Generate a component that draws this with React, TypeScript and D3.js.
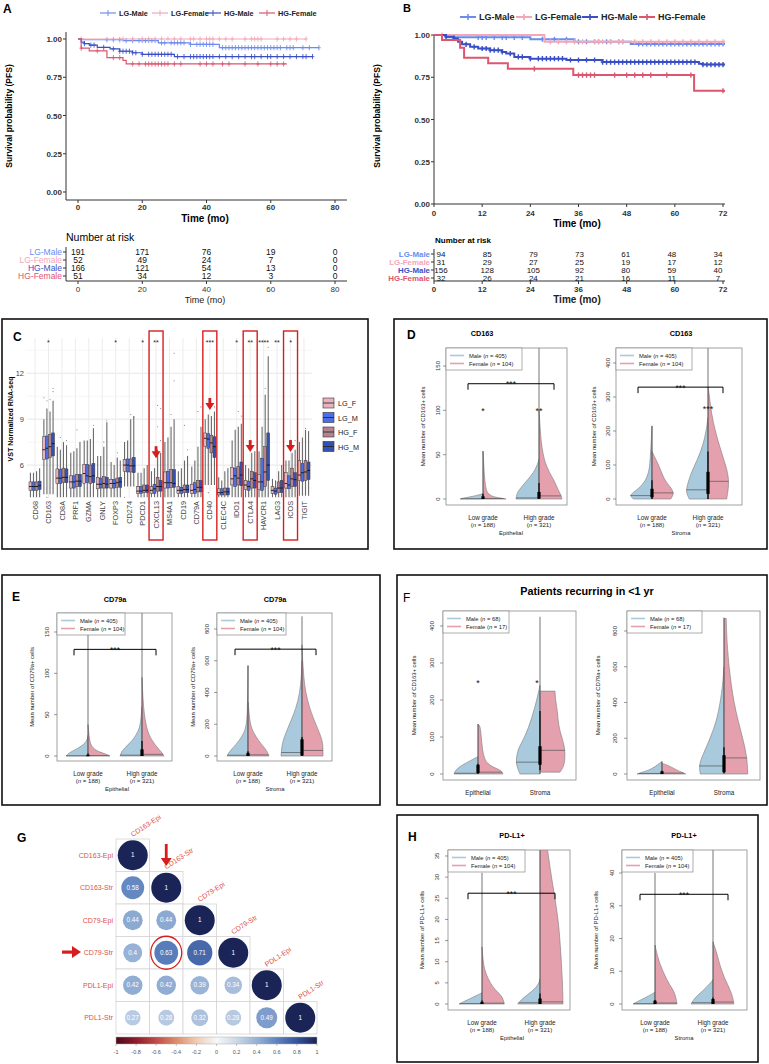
import React from 'react';
import * as d3 from 'd3';

const FONT = "'Liberation Sans', Arial, Helvetica, sans-serif";
type Pt = [number, number];

/* ================= Panels A & B : Kaplan–Meier ================= */
const kmNames = ['LG-Male', 'LG-Female', 'HG-Male', 'HG-Female'];
const kmColors = ['#6a8cf0', '#f2a8b6', '#3a4fc4', '#dc5670'];

const kmA_LGMale: Pt[] = [[0, 1], [1.5, 0.995], [14, 0.99], [25, 0.975], [35, 0.965], [44, 0.943], [75, 0.943]];
const kmA_LGFemale: Pt[] = [[0, 1], [71, 1]];
const kmA_HGMale: Pt[] = [[0, 1], [1, 0.98], [2, 0.97], [3.5, 0.96], [6, 0.945], [10, 0.935], [13, 0.92], [17, 0.91], [20, 0.9], [30, 0.885], [73, 0.885]];
const kmA_HGFemale: Pt[] = [[0, 1], [1, 0.94], [3.5, 0.923], [9, 0.878], [14, 0.86], [15, 0.837], [65, 0.837]];

const censA_LGMale = [9, 11, 13, 15, 17, 19, 20, 21, 22, 23, 24, 26, 27, 29, 30, 31, 32, 33, 35, 37, 38, 39, 40, 41, 42, 45, 46, 47, 48, 49, 50, 51, 52, 53, 54, 55, 56, 57, 58, 59, 60, 61, 62, 63, 65, 66, 67, 70, 72, 75];
const censA_LGFemale = [1, 14, 17, 20, 22, 24, 26, 28, 30, 32, 35, 36, 38, 40, 41, 42, 44, 46, 48, 52, 54, 55, 56, 57, 62, 64, 66, 68, 71];
const censA_HGMale = [2, 4, 5, 8, 11, 13, 14, 15, 16, 17, 18, 20, 22, 23, 24, 25, 26, 27, 28, 29, 31, 33, 35, 36, 37, 38, 39, 40, 41, 42, 44, 46, 48, 50, 52, 54, 55, 57, 59, 60, 62, 64, 66, 68, 70, 71, 73];
const censA_HGFemale = [1, 6, 11, 13, 17, 19, 21, 22, 23, 24, 25, 26, 27, 28, 30, 32, 38, 40, 42, 45, 47, 52, 56, 60, 62, 64];

const riskTimesA = [0, 20, 40, 60, 80];
const riskA = [[191, 171, 76, 19, 0], [52, 49, 24, 7, 0], [166, 121, 54, 13, 0], [51, 34, 12, 3, 0]];

const kmB_LGMale: Pt[] = [[0, 1], [3, 0.986], [24, 0.975], [35, 0.96], [49, 0.947], [72.5, 0.947]];
const kmB_LGFemale: Pt[] = [[0, 1], [27.5, 0.96], [72.5, 0.96]];
const kmB_HGMale: Pt[] = [[0, 1], [3, 0.99], [5, 0.98], [6, 0.96], [7, 0.945], [9, 0.93], [11, 0.92], [14, 0.91], [17, 0.9], [18, 0.89], [20, 0.87], [24, 0.86], [33, 0.852], [42, 0.84], [66, 0.83], [67, 0.825], [72.5, 0.825]];
const kmB_HGFemale: Pt[] = [[0, 1], [2, 0.97], [6.5, 0.925], [7.5, 0.866], [13.5, 0.833], [18.4, 0.8], [34.7, 0.763], [64.8, 0.67], [72.5, 0.67]];

const censB_LGMale = [11, 12, 13, 15, 17, 18, 20, 22, 27, 30, 33, 36, 38, 40, 41, 43, 44, 46, 47, 51, 52, 53, 54, 55, 56, 57, 58, 59, 60, 61, 62, 63, 64, 65, 66, 67, 68, 69, 70, 71, 72];
const censB_LGFemale = [2, 29, 31, 33, 35, 37, 40, 41, 42, 44, 46, 47, 50, 52, 54, 56, 58, 60, 62, 64, 66, 68, 70, 72];
const censB_HGMale = [3, 5, 8, 10, 12, 13, 14, 15, 16, 17, 19, 21, 22, 24, 26, 27, 28, 29, 30, 31, 32, 34, 36, 38, 40, 42, 43, 44, 45, 46, 47, 48, 49, 50, 51, 52, 53, 54, 55, 56, 57, 58, 59, 60, 61, 62, 63, 64, 65, 67, 68, 69, 70, 71, 72];
const censB_HGFemale = [25, 36, 37, 38, 39, 40, 45, 48, 50, 52, 54, 58, 64, 72];

const riskTimesB = [0, 12, 24, 36, 48, 60, 72];
const riskB = [[94, 85, 79, 73, 61, 48, 34], [31, 29, 27, 25, 19, 17, 12], [156, 128, 105, 92, 80, 59, 40], [32, 26, 24, 21, 16, 11, 7]];

const survTicks = [0, 0.25, 0.5, 0.75, 1];

/* ================= Panel C : boxplots ================= */
const genes = ['CD68', 'CD163', 'CD8A', 'PRF1', 'GZMA', 'GNLY', 'FOXP3', 'CD274', 'PDCD1', 'CXCL13', 'MS4A1', 'CD19', 'CD79A', 'CD40', 'CLEC4C', 'IDO1', 'CTLA4', 'HAVCR1', 'LAG3', 'ICOS', 'TIGIT'];
const geneStars = ['', '*', '', '', '', '', '*', '', '*', '**', '', '', '', '***', '', '*', '**', '****', '**', '*', ''];
const highlightGenes = ['CXCL13', 'CD40', 'CTLA4', 'ICOS'];
const arrowTips = [6.45, 9.6, 6.85, 6.85];
const boxGroups = ['LG_F', 'LG_M', 'HG_F', 'HG_M'];
const boxColors = ['#e8b3bc', '#4a6fe6', '#b5838f', '#3452b4'];
const boxYTicks = [6, 9, 12];
const boxMinor = [4.5, 7.5, 10.5, 13.5];

// per group (LG_F, LG_M, HG_F, HG_M), one value per gene
const medians = [
  [4.6, 7.0, 5.15, 4.9, 5.45, 4.75, 4.8, 6.0, 4.3, 4.35, 4.85, 4.35, 4.35, 7.75, 4.2, 5.1, 4.7, 4.9, 4.35, 4.8, 5.35],
  [4.6, 7.1, 5.15, 4.9, 5.3, 4.75, 4.8, 6.0, 4.3, 4.45, 4.85, 4.35, 4.4, 7.7, 4.2, 5.3, 4.6, 4.9, 4.3, 4.7, 5.5],
  [4.6, 7.2, 5.2, 4.95, 5.25, 4.8, 4.85, 5.95, 4.35, 4.6, 4.85, 4.4, 4.55, 7.45, 4.25, 5.15, 5.1, 5.55, 4.5, 5.1, 5.55],
  [4.65, 7.4, 5.2, 4.95, 5.3, 4.75, 4.9, 5.95, 4.35, 4.6, 4.8, 4.4, 4.55, 7.2, 4.25, 5.35, 5.0, 6.0, 4.5, 5.05, 5.65],
];
const q1s = [
  [4.35, 6.35, 4.8, 4.5, 4.8, 4.45, 4.5, 5.6, 4.15, 4.15, 4.5, 4.15, 4.15, 7.2, 4.05, 4.7, 4.4, 4.4, 4.15, 4.5, 5.0],
  [4.35, 6.4, 4.8, 4.5, 4.85, 4.5, 4.5, 5.55, 4.15, 4.15, 4.5, 4.15, 4.15, 7.1, 4.05, 4.6, 4.35, 4.35, 4.1, 4.45, 4.95],
  [4.35, 6.5, 4.85, 4.6, 4.8, 4.5, 4.55, 5.55, 4.2, 4.3, 4.55, 4.2, 4.25, 6.8, 4.05, 4.7, 4.5, 4.6, 4.2, 4.6, 5.0],
  [4.4, 6.6, 4.85, 4.6, 4.85, 4.5, 4.55, 5.5, 4.2, 4.3, 4.55, 4.2, 4.25, 6.5, 4.05, 4.65, 4.5, 5.0, 4.2, 4.6, 5.05],
];
const q3s = [
  [4.9, 7.85, 5.75, 5.3, 6.05, 5.2, 5.05, 6.35, 4.6, 4.6, 5.55, 4.6, 4.75, 8.1, 4.45, 5.85, 5.0, 5.4, 4.6, 5.5, 6.3],
  [4.9, 7.9, 5.7, 5.3, 6.05, 5.15, 5.05, 6.4, 4.6, 4.75, 5.6, 4.55, 4.85, 8.05, 4.45, 5.8, 4.95, 6.45, 4.5, 5.3, 6.1],
  [4.9, 8.0, 5.8, 5.4, 6.0, 5.25, 5.15, 6.4, 4.7, 5.2, 5.7, 4.7, 5.0, 7.95, 4.5, 5.9, 5.6, 7.2, 4.9, 5.8, 6.3],
  [4.95, 8.1, 5.75, 5.4, 6.1, 5.2, 5.2, 6.5, 4.7, 5.0, 5.7, 4.7, 5.0, 7.85, 4.5, 6.2, 5.5, 8.1, 5.0, 5.5, 6.2],
];
const whiskHigh = [
  [5.5, 9.0, 7.2, 6.8, 7.6, 6.6, 6.2, 7.5, 5.5, 5.6, 7.5, 5.6, 5.9, 9.0, 5.2, 7.6, 6.0, 6.9, 5.1, 6.3, 7.5],
  [5.5, 9.7, 7.0, 6.9, 7.6, 6.6, 6.0, 7.6, 5.5, 5.8, 7.8, 5.8, 6.3, 9.3, 5.0, 8.3, 5.8, 8.5, 5.0, 6.3, 7.8],
  [5.6, 9.5, 7.5, 7.1, 7.7, 7.2, 6.5, 9.0, 5.8, 7.0, 8.5, 6.3, 7.2, 9.2, 5.6, 8.5, 6.8, 10.6, 5.6, 6.8, 8.3],
  [5.8, 10.2, 7.3, 7.5, 8.4, 8.8, 6.3, 9.2, 6.0, 6.8, 9.0, 6.6, 8.5, 9.5, 5.8, 8.7, 6.9, 13.1, 6.0, 7.0, 8.2],
];
const whiskLow = [3.9, 4.1, 3.9, 3.9, 3.9, 3.9, 3.9, 4.6, 3.9, 3.9, 3.9, 3.9, 3.9, 4.7, 3.9, 3.9, 3.9, 3.9, 3.9, 3.9, 4.0];
// [gene index, group index, value]
const boxOutliers: [number, number, number][] = [
  [1, 0, 10.4], [1, 1, 10.2], [1, 3, 11.0], [1, 3, 10.8], [1, 2, 10.3], [1, 1, 3.9], [2, 1, 7.8], [2, 3, 7.6], [3, 2, 8.3],
  [4, 3, 8.6], [5, 3, 8.9], [5, 2, 7.5], [6, 2, 6.8], [7, 2, 9.3], [7, 3, 9.1], [7, 0, 3.9], [9, 2, 9.9], [9, 3, 9.7],
  [9, 2, 8.5], [9, 3, 7.6], [10, 3, 13.3], [10, 3, 11.5], [10, 2, 9.3], [11, 2, 8.6], [11, 3, 7.0], [12, 3, 9.8],
  [12, 2, 9.5], [13, 3, 9.8], [13, 1, 4.2], [15, 2, 9.5], [15, 3, 9.2], [16, 2, 7.5], [17, 3, 13.7], [17, 2, 11.0],
  [19, 3, 7.6], [20, 2, 8.4], [20, 3, 8.2],
];

/* ================= Violin panels D, E, F, H ================= */
// each half violin: [value, relative half-width]
const cd163EpiMale: Pt[][] = [
  [[0, 1], [1, 0.85], [2, 0.65], [3, 0.45], [4, 0.28], [5, 0.12], [6, 0]],
  [[0, 1], [5, 0.97], [10, 0.88], [20, 0.55], [30, 0.22], [40, 0.05], [45, 0]],
];
const cd163EpiFemale: Pt[][] = [
  [[0, 1], [1, 0.8], [2, 0.55], [3, 0.4], [6, 0.22], [10, 0.14], [20, 0.08], [35, 0.04], [54, 0]],
  [[0, 1], [5, 0.95], [12, 0.8], [20, 0.68], [30, 0.45], [40, 0.28], [50, 0.18], [65, 0.09], [80, 0.05], [100, 0]],
];
const cd163StrMale: Pt[][] = [
  [[0, 0.85], [10, 1], [20, 0.85], [30, 0.62], [45, 0.4], [60, 0.25], [80, 0.15], [100, 0.1], [150, 0.05], [215, 0]],
  [[0, 0.85], [20, 1], [40, 0.95], [80, 0.75], [120, 0.45], [160, 0.22], [200, 0.08], [240, 0]],
];
const cd163StrFemale: Pt[][] = [
  [[0, 0.85], [15, 1], [30, 0.9], [45, 0.7], [60, 0.55], [80, 0.42], [100, 0.3], [120, 0.15], [140, 0]],
  [[0, 0.85], [40, 0.95], [70, 0.92], [100, 0.8], [150, 0.55], [200, 0.33], [250, 0.16], [300, 0.07], [330, 0]],
];
const cd79EpiMale: Pt[][] = [
  [[0, 1], [4, 0.85], [8, 0.55], [12, 0.3], [16, 0.12], [20, 0.03], [25, 0]],
  [[0, 1], [5, 0.93], [10, 0.78], [15, 0.58], [20, 0.4], [30, 0.16], [40, 0.06], [60, 0]],
];
const cd79EpiFemale: Pt[][] = [
  [[0, 1], [2, 0.85], [5, 0.5], [8, 0.3], [12, 0.15], [20, 0.06], [38, 0]],
  [[0, 1], [5, 0.88], [10, 0.7], [20, 0.42], [30, 0.24], [50, 0.1], [70, 0.04], [95, 0]],
];
const cd79StrMale: Pt[][] = [
  [[0, 1], [25, 0.9], [50, 0.72], [100, 0.4], [150, 0.17], [200, 0.07], [300, 0.02], [570, 0]],
  [[0, 1], [50, 0.97], [100, 0.9], [150, 0.75], [200, 0.6], [300, 0.28], [400, 0.1], [500, 0.03], [600, 0]],
];
const cd79StrFemale: Pt[][] = [
  [[0, 1], [25, 0.92], [50, 0.8], [100, 0.48], [150, 0.25], [200, 0.1], [300, 0.03], [340, 0]],
  [[0, 1], [60, 1], [100, 0.96], [150, 0.82], [200, 0.66], [300, 0.36], [400, 0.17], [500, 0.08], [600, 0.03], [700, 0]],
];
const recCd163Male: Pt[][] = [
  [[0, 0.96], [10, 0.9], [20, 0.73], [30, 0.47], [40, 0.2], [47, 0]],
  [[0, 0.8], [20, 0.93], [40, 0.96], [70, 0.87], [100, 0.6], [150, 0.33], [200, 0.13], [230, 0.03], [240, 0]],
];
const recCd163Female: Pt[][] = [
  [[0, 1], [10, 0.93], [20, 0.55], [30, 0.35], [45, 0.24], [70, 0.17], [100, 0.13], [130, 0.09], [135, 0]],
  [[5, 0.8], [20, 0.95], [40, 1], [70, 1], [100, 0.87], [130, 0.74], [170, 0.7], [200, 0.62], [224, 0.6]],
];
const recCd79Male: Pt[][] = [
  [[0, 1], [10, 0.8], [20, 0.55], [40, 0.28], [60, 0.1], [70, 0]],
  [[0, 0.95], [50, 1], [100, 0.87], [200, 0.55], [300, 0.29], [400, 0.15], [500, 0.05], [600, 0]],
];
const recCd79Female: Pt[][] = [
  [[0, 0.95], [10, 0.8], [20, 0.62], [40, 0.36], [50, 0.2], [55, 0.1], [60, 0]],
  [[0, 0.95], [100, 0.92], [200, 0.75], [300, 0.56], [400, 0.4], [500, 0.29], [600, 0.2], [700, 0.14], [800, 0.1], [870, 0.09]],
];
const pdl1EpiMale: Pt[][] = [
  [[0, 1], [0.5, 0.82], [1, 0.62], [1.5, 0.43], [2, 0.25], [2.5, 0.05], [2.7, 0]],
  [[0, 0.97], [1, 0.82], [2, 0.58], [3, 0.36], [4, 0.15], [5, 0.04], [6, 0]],
];
const pdl1EpiFemale: Pt[][] = [
  [[0, 0.97], [1, 0.93], [2, 0.83], [3, 0.65], [4, 0.47], [6, 0.26], [8, 0.12], [10, 0.05], [13.5, 0]],
  [[0, 1], [5, 0.98], [10, 0.93], [15, 0.87], [20, 0.79], [25, 0.65], [30, 0.5], [35, 0.36], [40, 0.25]],
];
const pdl1StrMale: Pt[][] = [
  [[0, 1], [1, 0.72], [2, 0.43], [3, 0.14], [3.6, 0]],
  [[0, 1], [2, 0.82], [4, 0.46], [6, 0.18], [7, 0.04], [7.5, 0]],
];
const pdl1StrFemale: Pt[][] = [
  [[0, 1], [2, 0.95], [4, 0.86], [6, 0.65], [8, 0.5], [10, 0.36], [12, 0.24], [14, 0.14], [17, 0.03], [18, 0]],
  [[0, 0.95], [2, 0.9], [4, 0.8], [6, 0.66], [8, 0.52], [10, 0.41], [12, 0.31], [14, 0.23], [16, 0.15], [18, 0.05], [19, 0]],
];

/* ================= Panel G : correlation ================= */
const corrLabels = ['CD163-Epi', 'CD163-Str', 'CD79-Epi', 'CD79-Str', 'PDL1-Epi', 'PDL1-Str'];
const corrRows: number[][] = [
  [1],
  [0.58, 1],
  [0.44, 0.44, 1],
  [0.4, 0.63, 0.71, 1],
  [0.42, 0.42, 0.39, 0.34, 1],
  [0.27, 0.28, 0.32, 0.28, 0.49, 1],
];
const colorbarTicks = [-1, -0.8, -0.6, -0.4, -0.2, 0, 0.2, 0.4, 0.6, 0.8, 1];
const corrStops = ['#4d0a17', '#8e1c2c', '#bf4b47', '#dc8d6c', '#f1cbb4', '#f7f7f7', '#cbd8e8', '#97b2d6', '#5f83bf', '#34549c', '#1a2457'];

const MALE = '#a9c9dd';
const FEMALE = '#e5a0ae';
const RED = '#d71e1e';

/* ================= Components ================= */
function stepAt(steps: Pt[], t: number) {
  let s = steps[0][1];
  for (const [tt, ss] of steps) if (tt <= t) s = ss;
  return s;
}

interface KMProps {
  letter: string; letterX: number; letterY: number; letterSize: number;
  steps: Pt[][]; cens: number[][]; risk: number[][]; riskTimes: number[];
  xDom: [number, number]; xRng: [number, number]; yRng: [number, number]; riskRng: [number, number];
  axisL: number; axisR: number; axisT: number; axisB: number;
  lw: number; ms: number;
  legendX: number[]; legendY: number; legendFs: number;
  xTickY: number; timeX: number; timeY: number; timeFs: number;
  ytitleX: number; ytitleY: number;
  narX: number; narY: number; narFs: number; narBold: boolean;
  riskRows: number[]; riskLabelX: number; riskBold: boolean; riskFs: number; riskNumFs: number;
  bottomAxisY: number; bottomTickY: number; bottomTimeY: number; bottomBold: boolean; bottomTimeFs: number;
}

function KMPanel(p: KMProps) {
  const xs = d3.scaleLinear().domain(p.xDom).range(p.xRng);
  const xr = d3.scaleLinear().domain(p.xDom).range(p.riskRng);
  const ys = d3.scaleLinear().domain([0, 1]).range(p.yRng);
  const line = d3.line<Pt>().x(d => xs(d[0])).y(d => ys(d[1])).curve(d3.curveStepAfter);
  const ax = '#333';
  return (
    <g fontFamily={FONT}>
      <text x={p.letterX} y={p.letterY} fontSize={p.letterSize} fontWeight="bold">{p.letter}</text>
      {kmNames.map((n, i) => (
        <g key={n}>
          <line x1={p.legendX[i] - 8} x2={p.legendX[i] + 8} y1={p.legendY} y2={p.legendY} stroke={kmColors[i]} strokeWidth={p.lw} />
          <line x1={p.legendX[i]} x2={p.legendX[i]} y1={p.legendY - 3} y2={p.legendY + 3} stroke={kmColors[i]} strokeWidth={p.lw * 0.8} />
          <text x={p.legendX[i] + 11} y={p.legendY + p.legendFs * 0.35} fontSize={p.legendFs} fontWeight="bold" fill="#222">{n}</text>
        </g>
      ))}
      {/* axes */}
      <line x1={p.axisL} x2={p.axisL} y1={p.axisT} y2={p.axisB} stroke={ax} strokeWidth={1} />
      <line x1={p.axisL} x2={p.axisR} y1={p.axisB} y2={p.axisB} stroke={ax} strokeWidth={1} />
      {survTicks.map(t => (
        <g key={t}>
          <line x1={p.axisL - 3} x2={p.axisL} y1={ys(t)} y2={ys(t)} stroke={ax} />
          <text x={p.axisL - 4} y={ys(t) + 3} fontSize={8} fontWeight="bold" textAnchor="end" fill="#333">{t.toFixed(2)}</text>
        </g>
      ))}
      {p.riskTimes.map(t => (
        <g key={t}>
          <line x1={xs(t)} x2={xs(t)} y1={p.axisB} y2={p.axisB + 3} stroke={ax} />
          <text x={xs(t)} y={p.xTickY} fontSize={8} fontWeight="bold" textAnchor="middle" fill="#333">{t}</text>
        </g>
      ))}
      <text x={p.timeX} y={p.timeY} fontSize={p.timeFs} fontWeight="bold" textAnchor="middle">Time (mo)</text>
      <text transform={`translate(${p.ytitleX},${p.ytitleY}) rotate(-90)`} fontSize={8.5} fontWeight="bold" textAnchor="middle">Survival probability (PFS)</text>
      {/* curves */}
      {p.steps.map((st, i) => (
        <g key={i}>
          <path d={line(st) || ''} fill="none" stroke={kmColors[i]} strokeWidth={p.lw} />
          {p.cens[i].map((t, j) => {
            const x = xs(t), y = ys(stepAt(st, t));
            return <path key={j} d={`M${x},${y - p.ms}V${y + p.ms}M${x - p.ms * 0.7},${y}H${x + p.ms * 0.7}`} stroke={kmColors[i]} strokeWidth={p.lw * 0.7} />;
          })}
        </g>
      ))}
      {/* risk table */}
      <text x={p.narX} y={p.narY} fontSize={p.narFs} fontWeight={p.narBold ? 'bold' : 'normal'}>Number at risk</text>
      <line x1={p.axisL} x2={p.axisL} y1={p.riskRows[0] - 5} y2={p.bottomAxisY} stroke={ax} />
      <line x1={p.axisL} x2={p.axisR} y1={p.bottomAxisY} y2={p.bottomAxisY} stroke={ax} />
      {kmNames.map((n, i) => (
        <g key={n}>
          <line x1={p.axisL - 3} x2={p.axisL} y1={p.riskRows[i]} y2={p.riskRows[i]} stroke={ax} />
          <text x={p.riskLabelX} y={p.riskRows[i] + 3} fontSize={p.riskFs} fontWeight={p.riskBold ? 'bold' : 'normal'} textAnchor="end" fill={kmColors[i]}>{n}</text>
          {p.risk[i].map((v, j) => (
            <text key={j} x={xr(p.riskTimes[j])} y={p.riskRows[i] + 3} fontSize={p.riskNumFs} textAnchor="middle" fill="#111">{v}</text>
          ))}
        </g>
      ))}
      {p.riskTimes.map(t => (
        <g key={'b' + t}>
          <line x1={xs(t)} x2={xs(t)} y1={p.bottomAxisY} y2={p.bottomAxisY + 3} stroke={ax} />
          <text x={xs(t)} y={p.bottomTickY} fontSize={8} fontWeight={p.bottomBold ? 'bold' : 'normal'} textAnchor="middle" fill="#333">{t}</text>
        </g>
      ))}
      <text x={p.timeX} y={p.bottomTimeY} fontSize={p.bottomTimeFs} fontWeight={p.bottomBold ? 'bold' : 'normal'} textAnchor="middle" fill="#222">Time (mo)</text>
    </g>
  );
}

function DownArrow({ x, y, w = 9, h = 7, stem = 5 }: { x: number; y: number; w?: number; h?: number; stem?: number }) {
  return (
    <g fill={RED}>
      <rect x={x - 1.4} y={y - h - stem} width={2.8} height={stem + 1} />
      <path d={`M${x - w / 2},${y - h}L${x + w / 2},${y - h}L${x},${y}Z`} />
    </g>
  );
}

function PanelC() {
  const xb = d3.scaleBand<string>().domain(genes).range([28.3, 310.7]);
  const ys = d3.scaleLinear().domain([3.85, 14.3]).range([498, 338]);
  const cx = (g: string) => (xb(g) as number) + xb.bandwidth() / 2;
  const offs = [-4.6, -1.55, 1.55, 4.6];
  const bw = 2.9;
  return (
    <g fontFamily={FONT}>
      <rect x={2} y={319} width={366} height={230} fill="none" stroke="#111" strokeWidth={1.6} />
      <text x={13} y={341} fontSize={12} fontWeight="bold">C</text>
      {/* grid */}
      {boxMinor.map(v => <line key={'m' + v} x1={27} x2={312} y1={ys(v)} y2={ys(v)} stroke="#f2f2f2" strokeWidth={0.8} />)}
      {boxYTicks.map(v => <line key={'g' + v} x1={27} x2={312} y1={ys(v)} y2={ys(v)} stroke="#e6e6e6" strokeWidth={1} />)}
      {genes.map(g => <line key={'v' + g} x1={cx(g)} x2={cx(g)} y1={338} y2={498} stroke="#ececec" strokeWidth={1} />)}
      {boxYTicks.map(v => <text key={'t' + v} x={24} y={ys(v) + 2.5} fontSize={7.5} textAnchor="end" fill="#444">{v}</text>)}
      <text transform={`translate(13,419) rotate(-90)`} fontSize={7} fontWeight="bold" textAnchor="middle">VST Normalized RNA-seq</text>
      {/* boxes */}
      {genes.map((g, gi) => (
        <g key={g}>
          {boxGroups.map((bg, k) => {
            const x = cx(g) + offs[k];
            return (
              <g key={bg}>
                <line x1={x} x2={x} y1={ys(whiskLow[gi])} y2={ys(whiskHigh[k][gi])} stroke="#6a6a6a" strokeWidth={1.1} />
                <rect x={x - bw / 2} y={ys(q3s[k][gi])} width={bw} height={ys(q1s[k][gi]) - ys(q3s[k][gi])} fill={boxColors[k]} stroke="#3a3a3a" strokeWidth={0.5} />
                <line x1={x - bw / 2} x2={x + bw / 2} y1={ys(medians[k][gi])} y2={ys(medians[k][gi])} stroke="#111" strokeWidth={0.9} />
              </g>
            );
          })}
          <text x={cx(g)} y={345} fontSize={7} textAnchor="middle" fill="#222">{geneStars[gi]}</text>
          <text transform={`translate(${cx(g) + 2.6},501) rotate(-90)`} fontSize={7.3} textAnchor="end" fill="#444">{g}</text>
        </g>
      ))}
      {boxOutliers.map(([gi, k, v], i) => (
        <circle key={i} cx={cx(genes[gi]) + offs[k]} cy={ys(v)} r={0.55} fill="#777" />
      ))}
      {/* highlights */}
      {highlightGenes.map((g, i) => (
        <g key={g}>
          <rect x={cx(g) - 7} y={331} width={14} height={209} fill="none" stroke={RED} strokeWidth={1.4} />
          <DownArrow x={cx(g)} y={ys(arrowTips[i])} />
        </g>
      ))}
      {/* legend */}
      {boxGroups.map((bg, k) => (
        <g key={bg}>
          <rect x={323} y={398 + k * 14.5} width={11} height={10} fill={boxColors[k]} stroke="#333" strokeWidth={0.6} />
          <line x1={323} x2={334} y1={403 + k * 14.5} y2={403 + k * 14.5} stroke="#222" strokeWidth={0.8} />
          <text x={338} y={406 + k * 14.5} fontSize={7.3} fill="#222">{bg}</text>
        </g>
      ))}
    </g>
  );
}

interface VProps {
  id: string;
  box: [number, number, number, number];
  dom: [number, number]; rng: [number, number];
  ticks: number[]; centers: number[]; maxW: number;
  male: Pt[][]; female: Pt[][];
  medM: number[]; medF: number[];
  q: Pt[]; wh: Pt[]; tails: number[];
  title?: string; titleX?: number; titleY?: number;
  ytitle: string; ytitleX: number; ytickX: number;
  xlabels: string[]; xsub?: string[]; xtitle?: string; xtitleX?: number;
  legendN: [string, string]; legendW: number;
  bracket?: { v: number; x0: number; x1: number };
  stars?: { x: number; v: number; s: string }[];
}

function Violin(p: VProps) {
  const ys = d3.scaleLinear().domain(p.dom).range(p.rng);
  const [x0, y0, x1, y1] = p.box;
  const half = (pts: Pt[], cx: number, side: number) =>
    d3.area<Pt>().y(d => ys(d[0])).x0(cx).x1(d => cx + side * d[1] * p.maxW).curve(d3.curveBasis)(pts) || '';
  const widthAt = (pts: Pt[], v: number) =>
    d3.scaleLinear().domain(pts.map(d => d[0])).range(pts.map(d => d[1])).clamp(true)(v);
  const ly = y0;
  return (
    <g fontFamily={FONT}>
      <defs>
        <clipPath id={p.id}><rect x={x0} y={y0} width={x1 - x0} height={y1 - y0} /></clipPath>
      </defs>
      <g clipPath={`url(#${p.id})`}>
        {p.centers.map((cx, i) => (
          <g key={i}>
            <path d={half(p.male[i], cx, -1)} fill={MALE} stroke="#7a7a7a" strokeWidth={0.6} />
            <path d={half(p.female[i], cx, 1)} fill={FEMALE} stroke="#7a7a7a" strokeWidth={0.6} />
            <line x1={cx} x2={cx} y1={ys(0)} y2={ys(p.tails[i])} stroke="#3a3a3a" strokeWidth={0.7} />
            <line x1={cx - widthAt(p.male[i], p.medM[i]) * p.maxW} x2={cx} y1={ys(p.medM[i])} y2={ys(p.medM[i])} stroke="#555" strokeWidth={0.7} />
            <line x1={cx} x2={cx + widthAt(p.female[i], p.medF[i]) * p.maxW} y1={ys(p.medF[i])} y2={ys(p.medF[i])} stroke="#555" strokeWidth={0.7} />
            <line x1={cx} x2={cx} y1={ys(p.wh[i][0])} y2={ys(p.wh[i][1])} stroke="#000" strokeWidth={1.2} />
            <rect x={cx - 1.6} y={ys(p.q[i][1])} width={3.2} height={Math.max(1.5, ys(p.q[i][0]) - ys(p.q[i][1]))} fill="#000" />
          </g>
        ))}
      </g>
      <rect x={x0} y={y0} width={x1 - x0} height={y1 - y0} fill="none" stroke="#8a8a8a" strokeWidth={0.8} />
      {/* legend */}
      <rect x={x0} y={ly} width={p.legendW} height={22} fill="#fff" stroke="#8a8a8a" strokeWidth={0.7} />
      <line x1={x0 + 4} x2={x0 + 18} y1={ly + 7.5} y2={ly + 7.5} stroke={MALE} strokeWidth={1.6} />
      <line x1={x0 + 4} x2={x0 + 18} y1={ly + 15.5} y2={ly + 15.5} stroke={FEMALE} strokeWidth={1.6} />
      <text x={x0 + 23} y={ly + 9.5} fontSize={5.8} fill="#222">Male (<tspan fontStyle="italic">n</tspan> = {p.legendN[0]})</text>
      <text x={x0 + 23} y={ly + 17.5} fontSize={5.8} fill="#222">Female (<tspan fontStyle="italic">n</tspan> = {p.legendN[1]})</text>
      {/* y axis */}
      {p.ticks.map(t => (
        <g key={t}>
          <line x1={x0 - 3} x2={x0} y1={ys(t)} y2={ys(t)} stroke="#555" strokeWidth={0.6} />
          <text transform={`translate(${p.ytickX},${ys(t)}) rotate(-90)`} fontSize={6} textAnchor="middle" fill="#333">{t}</text>
        </g>
      ))}
      <text transform={`translate(${p.ytitleX},${(y0 + y1) / 2}) rotate(-90)`} fontSize={5.9} textAnchor="middle" fill="#222">{p.ytitle}</text>
      {p.title && <text x={p.titleX} y={p.titleY} fontSize={7.3} fontWeight="bold" textAnchor="middle">{p.title}</text>}
      {p.xlabels.map((l, i) => (
        <g key={l}>
          <text x={p.centers[i]} y={y1 + 14.5} fontSize={6.3} textAnchor="middle" fill="#222">{l}</text>
          {p.xsub && <text x={p.centers[i]} y={y1 + 22} fontSize={6.1} textAnchor="middle" fill="#222">(<tspan fontStyle="italic">n</tspan> = {p.xsub[i]})</text>}
        </g>
      ))}
      {p.xtitle && <text x={p.xtitleX} y={y1 + 29.5} fontSize={5.9} textAnchor="middle" fill="#222">{p.xtitle}</text>}
      {p.bracket && (
        <g>
          <path d={`M${p.bracket.x0},${ys(p.bracket.v) + 6}V${ys(p.bracket.v)}H${p.bracket.x1}V${ys(p.bracket.v) + 6}`} fill="none" stroke="#000" strokeWidth={1} />
          <text x={(p.bracket.x0 + p.bracket.x1) / 2} y={ys(p.bracket.v) + 3.5} fontSize={8.5} textAnchor="middle" fill="#111">***</text>
        </g>
      )}
      {p.stars && p.stars.map((s, i) => (
        <text key={i} x={s.x} y={ys(s.v) + 4} fontSize={9} textAnchor="middle" fill="#111">{s.s}</text>
      ))}
    </g>
  );
}

function PanelBox({ x, y, w, h }: { x: number; y: number; w: number; h: number }) {
  return <rect x={x} y={y} width={w} height={h} fill="none" stroke="#111" strokeWidth={1.6} />;
}

function PanelG() {
  const colX = d3.scaleLinear().domain([0, 6]).range([116, 317]);
  const rowY = d3.scaleLinear().domain([0, 6]).range([839, 1034]);
  const col = d3.scaleLinear<string>().domain(colorbarTicks).range(corrStops).interpolate(d3.interpolateRgb);
  const cb = d3.scaleLinear().domain([-1, 1]).range([116, 317]);
  return (
    <g fontFamily={FONT}>
      <text x={17} y={842} fontSize={12} fontWeight="bold">G</text>
      {corrRows.map((row, i) => (
        <g key={i}>
          <text x={113} y={rowY(i + 0.5) + 2.5} fontSize={7} textAnchor="end" fill="#e0504a">{corrLabels[i]}</text>
          {row.map((r, j) => {
            const cx = colX(j + 0.5), cy = rowY(i + 0.5);
            const rad = Math.sqrt(Math.abs(r)) * 15;
            return (
              <g key={j}>
                <rect x={colX(j)} y={rowY(i)} width={colX(j + 1) - colX(j)} height={rowY(i + 1) - rowY(i)} fill="#fff" stroke="#d4d4d4" strokeWidth={0.8} />
                <circle cx={cx} cy={cy} r={rad} fill={col(r)} />
                <text x={cx} y={cy + 2.2} fontSize={6.3} textAnchor="middle" fill="#fff">{r}</text>
              </g>
            );
          })}
          <text transform={`translate(${colX(i + 0.5)},${rowY(i) - 2}) rotate(-33)`} fontSize={7} fill="#e0504a">{corrLabels[i]}</text>
        </g>
      ))}
      {/* annotations */}
      <DownArrow x={colX(1.5)} y={866} w={11} h={8} stem={14} />
      <g fill={RED}>
        <rect x={62} y={950.5} width={12} height={3.2} />
        <path d="M72,946 L72,958 L81,952 Z" />
      </g>
      <ellipse cx={colX(1.5)} cy={rowY(3.5)} rx={15.5} ry={16.5} fill="none" stroke={RED} strokeWidth={1.3} />
      {/* colorbar */}
      <defs>
        <linearGradient id="cbar" x1="0" x2="1" y1="0" y2="0">
          {corrStops.map((c, i) => <stop key={i} offset={`${i * 10}%`} stopColor={c} />)}
        </linearGradient>
      </defs>
      <rect x={116} y={1037} width={201} height={7} fill="url(#cbar)" stroke="#aaa" strokeWidth={0.5} />
      {colorbarTicks.map(t => (
        <g key={t}>
          <line x1={cb(t)} x2={cb(t)} y1={1044} y2={1046} stroke="#888" strokeWidth={0.5} />
          <text x={cb(t)} y={1054} fontSize={5.5} textAnchor="middle" fill="#555">{t}</text>
        </g>
      ))}
    </g>
  );
}

export default function App() {
  return (
    <svg width={769} height={1064} style={{ position: 'absolute', left: 0, top: 0, background: '#fff' }} fontFamily={FONT}>
      <rect width={769} height={1064} fill="#fff" />
      <KMPanel
        letter="A" letterX={3} letterY={13} letterSize={12}
        steps={[kmA_LGMale, kmA_LGFemale, kmA_HGMale, kmA_HGFemale]}
        cens={[censA_LGMale, censA_LGFemale, censA_HGMale, censA_HGFemale]}
        risk={riskA} riskTimes={riskTimesA}
        xDom={[0, 80]} xRng={[78, 335]} yRng={[192, 39]} riskRng={[78, 335]}
        axisL={66} axisR={347} axisT={32} axisB={200}
        lw={1.2} ms={2.6}
        legendX={[108, 160, 213, 267]} legendY={13} legendFs={7.3}
        xTickY={210} timeX={205} timeY={222} timeFs={10}
        ytitleX={12} ytitleY={116}
        narX={66} narY={241} narFs={10.5} narBold={false}
        riskRows={[252, 260, 268, 276]} riskLabelX={62} riskBold={false} riskFs={8.5} riskNumFs={8.5}
        bottomAxisY={281} bottomTickY={292} bottomTimeY={303} bottomBold={false} bottomTimeFs={9}
      />
      <KMPanel
        letter="B" letterX={403} letterY={12} letterSize={11}
        steps={[kmB_LGMale, kmB_LGFemale, kmB_HGMale, kmB_HGFemale]}
        cens={[censB_LGMale, censB_LGFemale, censB_HGMale, censB_HGFemale]}
        risk={riskB} riskTimes={riskTimesB}
        xDom={[0, 72]} xRng={[434, 723]} yRng={[204, 35]} riskRng={[441, 718]}
        axisL={434} axisR={725} axisT={35} axisB={204}
        lw={2} ms={2.6}
        legendX={[468, 524, 590, 647]} legendY={17} legendFs={9}
        xTickY={216} timeX={577} timeY={227} timeFs={10}
        ytitleX={380} ytitleY={116}
        narX={435} narY={243} narFs={8} narBold={true}
        riskRows={[254, 262, 270, 278]} riskLabelX={430} riskBold={true} riskFs={7.9} riskNumFs={8}
        bottomAxisY={281} bottomTickY={292} bottomTimeY={303} bottomBold={true} bottomTimeFs={10}
      />

      <PanelC />

      {/* Panel D */}
      <PanelBox x={394} y={319} w={373} h={230} />
      <text x={407} y={339} fontSize={12} fontWeight="bold" fontFamily={FONT}>D</text>
      <Violin id="d1" box={[446, 348, 567, 505]} dom={[0, 150]} rng={[499, 366]} ticks={[0, 50, 100, 150]}
        centers={[483, 539]} maxW={23} male={cd163EpiMale} female={cd163EpiFemale}
        medM={[0.3, 1.2]} medF={[0.5, 3.5]} q={[[0, 3], [0.5, 8]]} wh={[[0, 6], [0, 18]]} tails={[54, 180]}
        title="CD163" titleX={482} titleY={336} ytitle="Mean number of CD163+ cells" ytitleX={425} ytickX={440}
        xlabels={['Low grade', 'High grade']} xsub={['188', '321']} xtitle="Epithelial" xtitleX={511}
        legendN={['405', '104']} legendW={76} bracket={{ v: 130, x0: 468, x1: 554 }}
        stars={[{ x: 483, v: 100, s: '*' }, { x: 539, v: 100, s: '**' }]} />
      <Violin id="d2" box={[616, 348, 742, 505]} dom={[0, 400]} rng={[499, 363]} ticks={[0, 100, 200, 300, 400]}
        centers={[652, 708]} maxW={22} male={cd163StrMale} female={cd163StrFemale}
        medM={[10, 27]} medF={[18, 52]} q={[[5, 30], [15, 80]]} wh={[[0, 55], [0, 140]]} tails={[215, 460]}
        title="CD163" titleX={681} titleY={336} ytitle="Mean number of CD163+ cells" ytitleX={596} ytickX={610}
        xlabels={['Low grade', 'High grade']} xsub={['188', '321']} xtitle="Stroma" xtitleX={681}
        legendN={['405', '104']} legendW={76} bracket={{ v: 329, x0: 638, x1: 723 }}
        stars={[{ x: 708, v: 267, s: '***' }]} />

      {/* Panel E */}
      <PanelBox x={2} y={575} w={378} h={230} />
      <text x={12} y={601} fontSize={12} fontWeight="bold" fontFamily={FONT}>E</text>
      <Violin id="e1" box={[57, 613, 172, 761]} dom={[0, 150]} rng={[756, 632]} ticks={[0, 50, 100, 150]}
        centers={[88, 142]} maxW={22} male={cd79EpiMale} female={cd79EpiFemale}
        medM={[0.3, 1]} medF={[0.5, 2]} q={[[0, 1.5], [0, 8]]} wh={[[0, 3], [0, 18]]} tails={[150, 175]}
        title="CD79a" titleX={115} titleY={602} ytitle="Mean number of CD79a+ cells" ytitleX={34} ytickX={49}
        xlabels={['Low grade', 'High grade']} xsub={['188', '321']} xtitle="Epithelial" xtitleX={117}
        legendN={['405', '104']} legendW={68} bracket={{ v: 129, x0: 74, x1: 156 }} />
      <Violin id="e2" box={[217, 613, 332, 761]} dom={[0, 800]} rng={[756, 629]} ticks={[0, 200, 400, 600, 800]}
        centers={[248, 302]} maxW={21} male={cd79StrMale} female={cd79StrFemale}
        medM={[5, 22]} medF={[7, 35]} q={[[0, 20], [3, 105]]} wh={[[0, 30], [0, 120]]} tails={[570, 880]}
        title="CD79a" titleX={275} titleY={602} ytitle="Mean number of CD79a+ cells" ytitleX={195} ytickX={209}
        xlabels={['Low grade', 'High grade']} xsub={['188', '321']} xtitle="Stroma" xtitleX={275}
        legendN={['405', '104']} legendW={69} bracket={{ v: 673, x0: 235, x1: 316 }} />

      {/* Panel F */}
      <PanelBox x={397} y={575} w={370} h={230} />
      <text x={403} y={602} fontSize={12} fontFamily={FONT}>F</text>
      <text x={587} y={595} fontSize={10.8} fontWeight="bold" textAnchor="middle" fontFamily={FONT}>Patients recurring in &lt;1 yr</text>
      <Violin id="f1" box={[443, 611, 576, 780]} dom={[0, 400]} rng={[774, 626]} ticks={[0, 100, 200, 300, 400]}
        centers={[478, 540]} maxW={25} male={recCd163Male} female={recCd163Female}
        medM={[2, 32]} medF={[5, 64]} q={[[3, 25], [25, 75]]} wh={[[0, 28], [10, 170]]} tails={[135, 425]}
        ytitle="Mean number of CD163+ cells" ytitleX={416} ytickX={434}
        xlabels={['Epithelial', 'Stroma']}
        legendN={['68', '17']} legendW={66}
        stars={[{ x: 478, v: 250, s: '*' }, { x: 537, v: 250, s: '*' }]} />
      <Violin id="f2" box={[627, 611, 760, 780]} dom={[0, 800]} rng={[774, 631]} ticks={[0, 200, 400, 600, 800]}
        centers={[662, 724]} maxW={25} male={recCd79Male} female={recCd79Female}
        medM={[3, 45]} medF={[5, 90]} q={[[0, 15], [10, 105]]} wh={[[0, 18], [5, 150]]} tails={[70, 875]}
        ytitle="Mean number of CD79a+ cells" ytitleX={600} ytickX={617}
        xlabels={['Epithelial', 'Stroma']}
        legendN={['68', '17']} legendW={75} />

      {/* Panel G */}
      <PanelG />

      {/* Panel H */}
      <PanelBox x={397} y={815} w={361} h={247} />
      <text x={408} y={841} fontSize={12} fontWeight="bold" fontFamily={FONT}>H</text>
      <Violin id="h1" box={[448, 850, 570, 1010]} dom={[0, 35]} rng={[1004, 856]} ticks={[0, 5, 10, 15, 20, 25, 30, 35]}
        centers={[482, 540]} maxW={23} male={pdl1EpiMale} female={pdl1EpiFemale}
        medM={[0.1, 0.3]} medF={[0.2, 0.5]} q={[[0, 0.5], [0, 1.3]]} wh={[[0, 0.8], [0, 2.5]]} tails={[31, 40]}
        title="PD-L1+" titleX={512} titleY={838} ytitle="Mean number of PD-L1+ cells" ytitleX={424} ytickX={439}
        xlabels={['Low grade', 'High grade']} xsub={['188', '321']} xtitle="Epithelial" xtitleX={512}
        legendN={['405', '104']} legendW={77} bracket={{ v: 26.2, x0: 468, x1: 555 }} />
      <Violin id="h2" box={[622, 850, 747, 1010]} dom={[0, 40]} rng={[1004, 873]} ticks={[0, 10, 20, 30, 40]}
        centers={[655, 713]} maxW={22} male={pdl1StrMale} female={pdl1StrFemale}
        medM={[0.1, 0.4]} medF={[0.3, 0.6]} q={[[0, 1], [0, 1.5]]} wh={[[0, 1.2], [0, 2]]} tails={[40, 48]}
        title="PD-L1+" titleX={684} titleY={838} ytitle="Mean number of PD-L1+ cells" ytitleX={598} ytickX={614}
        xlabels={['Low grade', 'High grade']} xsub={['188', '321']} xtitle="Stroma" xtitleX={684}
        legendN={['405', '104']} legendW={71} bracket={{ v: 33.5, x0: 640, x1: 728 }} />
    </svg>
  );
}
